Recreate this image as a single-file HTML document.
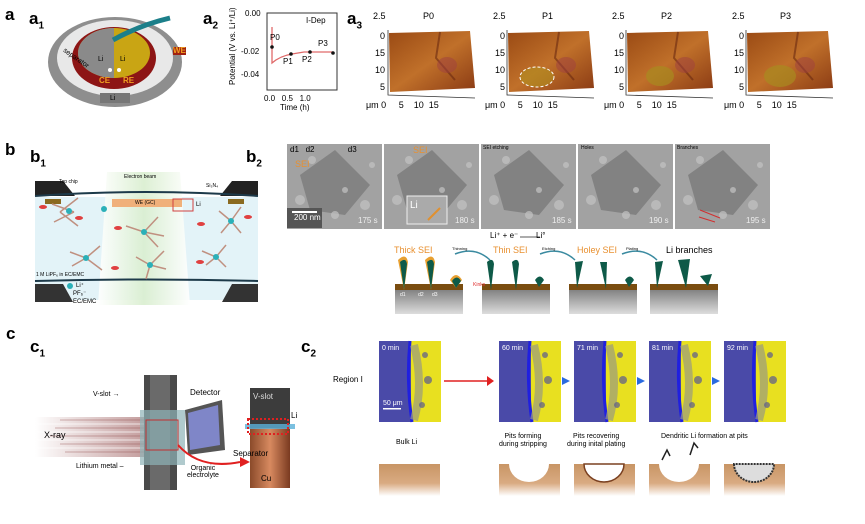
<!DOCTYPE html>
<html><head><meta charset="utf-8"><style>
body{margin:0;background:#fff;}
#w{position:relative;width:865px;height:524px;overflow:hidden;font-family:"Liberation Sans",sans-serif;}
.t{position:absolute;white-space:nowrap;line-height:1;}
</style></head><body><div id="w">
<svg width="865" height="524" style="position:absolute;left:0;top:0" font-family="Liberation Sans, sans-serif">
<defs>
<linearGradient id="afm" x1="0" y1="0" x2="1" y2="1"><stop offset="0" stop-color="#9a4a14"/><stop offset="0.5" stop-color="#c0702a"/><stop offset="1" stop-color="#8a3a14"/></linearGradient>
<linearGradient id="gb" x1="0" y1="0" x2="0" y2="1"><stop offset="0" stop-color="#777"/><stop offset="1" stop-color="#ddd"/></linearGradient>
<linearGradient id="cu" x1="0" y1="0" x2="0" y2="1"><stop offset="0" stop-color="#c89565"/><stop offset="0.6" stop-color="#d9ab82"/><stop offset="1" stop-color="#fff"/></linearGradient>
<linearGradient id="beam" x1="0" y1="0" x2="1" y2="0"><stop offset="0" stop-color="#fff"/><stop offset="0.5" stop-color="#d9eecf"/><stop offset="1" stop-color="#fff"/></linearGradient>
<linearGradient id="xr" x1="0" y1="0" x2="1" y2="0"><stop offset="0" stop-color="#fff"/><stop offset="1" stop-color="#b58585"/></linearGradient>
<linearGradient id="cucol" x1="0" y1="0" x2="1" y2="0"><stop offset="0" stop-color="#8a4a2a"/><stop offset="0.5" stop-color="#d88a60"/><stop offset="1" stop-color="#7a3a20"/></linearGradient>
</defs>
<!-- a1 -->
<ellipse cx="115" cy="62" rx="67" ry="45" fill="#8e8e8e"/>
<ellipse cx="115" cy="58" rx="58" ry="38" fill="#e8e8e8"/>
<ellipse cx="114" cy="58" rx="42" ry="31" fill="#8d1515"/>
<ellipse cx="114" cy="53" rx="36" ry="25" fill="#c9a514"/>
<path d="M114 28 A36 25 0 0 0 114 78 Z" fill="#8a8a8a"/>
<path d="M113 40 Q140 25 170 18" stroke="#1c7f8a" stroke-width="5" fill="none"/>
<rect x="100" y="93" width="30" height="10" fill="#777"/>
<circle cx="110" cy="70" r="2" fill="#fff"/><circle cx="119" cy="70" r="2" fill="#fff"/>
<!-- a2 -->
<rect x="267" y="13" width="70" height="77" fill="none" stroke="#333" stroke-width="1"/>
<path d="M272 27 L272 63 Q280 56 292 54 L304 52 L333 52" stroke="#e06a6a" stroke-width="1.3" fill="none"/>
<circle cx="272" cy="47" r="1.8" fill="#111"/><circle cx="291" cy="54" r="1.8" fill="#111"/><circle cx="310" cy="52" r="1.8" fill="#111"/><circle cx="333" cy="53" r="1.8" fill="#111"/>
<!-- a3 -->
<g id="afmp">
<polygon points="389,33 470,31 475,88 390,92" fill="url(#afm)"/>
<path d="M440 32 L436 58 L455 80" stroke="#6a2a10" stroke-width="2" fill="none" opacity="0.6"/>
<ellipse cx="447" cy="65" rx="10" ry="8" fill="#a04040" opacity="0.5"/>
<path d="M388 30 L388 95 L475 98" stroke="#333" fill="none" stroke-width="0.8"/>
</g>
<use href="#afmp" x="119"/><use href="#afmp" x="238"/><use href="#afmp" x="358"/>
<ellipse cx="537" cy="77" rx="17" ry="10" fill="#b09020" opacity="0.6"/>
<ellipse cx="537" cy="77" rx="17" ry="10" fill="none" stroke="#fff" stroke-dasharray="3 2"/>
<ellipse cx="660" cy="76" rx="14" ry="10" fill="#a88a20" opacity="0.7"/>
<ellipse cx="780" cy="76" rx="16" ry="11" fill="#a88a20" opacity="0.7"/>
<!-- b1 -->
<rect x="35" y="197" width="223" height="103" fill="#e3f3f8"/>
<polygon points="107,172 180,172 190,305 98,305" fill="url(#beam)" opacity="0.9"/>
<polygon points="35,181 63,181 75,196 35,196" fill="#222"/>
<polygon points="258,181 232,181 220,196 258,196" fill="#222"/>
<polygon points="35,284 63,284 73,302 35,302" fill="#333"/>
<polygon points="258,284 232,284 222,302 258,302" fill="#333"/>
<path d="M35 196 Q146 188 258 196" stroke="#1d3a4a" stroke-width="2" fill="none"/>
<path d="M35 281 Q146 278 258 281" stroke="#1d3a4a" stroke-width="2" fill="none"/>
<rect x="112" y="199" width="70" height="8" fill="#f0b07a"/>
<rect x="45" y="199" width="16" height="5" fill="#8a6a20"/><rect x="228" y="199" width="16" height="5" fill="#8a6a20"/>
<g fill="#e04040"><ellipse cx="43" cy="207" rx="4" ry="2"/><ellipse cx="118" cy="228" rx="4" ry="2"/><ellipse cx="201" cy="224" rx="4" ry="2"/><ellipse cx="248" cy="217" rx="4" ry="2"/><ellipse cx="115" cy="268" rx="4" ry="2"/><ellipse cx="200" cy="262" rx="4" ry="2"/><ellipse cx="79" cy="218" rx="4" ry="2"/></g>
<g stroke="#c09080" stroke-width="1.5"><path d="M60 212 l18 -14 M60 212 l18 14 M74 212 l-22 -8 M74 212 l-20 10"/><path d="M144 232 l14 -15 M144 232 l14 15 M144 232 l-18 -6 M144 232 l20 4"/><path d="M86 258 l14 -12 M86 258 l16 12 M86 258 l-16 -6 M86 258 l-14 8"/><path d="M150 265 l14 -14 M150 265 l16 4 M150 265 l-14 -8 M150 265 l-4 14"/><path d="M231 221 l10 -14 M231 221 l-10 12 M231 221 l-12 -10 M231 221 l10 12"/><path d="M216 257 l10 -12 M216 257 l10 10 M216 257 l-14 -6 M216 257 l-10 8"/></g>
<g fill="#2bb0b8"><circle cx="69" cy="211" r="3"/><circle cx="104" cy="209" r="3"/><circle cx="144" cy="232" r="3"/><circle cx="86" cy="258" r="3"/><circle cx="150" cy="265" r="3"/><circle cx="231" cy="221" r="3"/><circle cx="216" cy="257" r="3"/><circle cx="70" cy="286" r="3"/></g>
<rect x="173" y="199" width="20" height="12" fill="none" stroke="#d04040"/>
<!-- b2 TEM -->
<g fill="#a2a2a2"><rect x="287" y="144" width="95" height="85"/><rect x="384" y="144" width="95" height="85"/><rect x="481" y="144" width="95" height="85"/><rect x="578" y="144" width="95" height="85"/><rect x="675" y="144" width="95" height="85"/></g>
<g fill="#6e6e6e" opacity="0.6"><polygon points="300,175 335,150 370,185 345,215 310,210"/><polygon points="397,175 432,150 467,185 442,215 407,210"/><polygon points="494,175 529,150 564,185 539,215 504,210"/><polygon points="591,175 626,150 661,185 636,215 601,210"/><polygon points="688,175 723,150 758,185 733,215 698,210"/></g>
<g id="bl" fill="#c4c4c4" opacity="0.7"><circle cx="300" cy="200" r="5"/><circle cx="335" cy="215" r="4"/><circle cx="365" cy="205" r="5"/><circle cx="345" cy="190" r="3"/><circle cx="312" cy="160" r="4"/><circle cx="372" cy="165" r="3"/></g>
<use href="#bl" x="97"/><use href="#bl" x="194"/><use href="#bl" x="291"/><use href="#bl" x="388"/>
<rect x="287" y="208" width="35" height="20" fill="#555"/>
<rect x="292" y="211" width="25" height="2" fill="#fff"/>
<rect x="407" y="196" width="40" height="28" fill="#aaa" stroke="#eee"/>
<path d="M428 220 l12 -12" stroke="#e09030" stroke-width="2"/>
<path d="M720 218 l-20 -8 M715 222 l-16 -5" stroke="#d03030" stroke-width="1"/>
<path d="M520 237 L540 237" stroke="#222" stroke-width="0.8"/>
<!-- b2 schematic -->
<g id="blk"><rect x="395" y="287" width="68" height="27" fill="url(#gb)"/><rect x="395" y="284" width="68" height="6" fill="#7a4d10"/></g>
<use href="#blk" x="87"/><use href="#blk" x="174"/><use href="#blk" x="255"/>
<g fill="#e8a030"><path d="M398 260 q8 -8 10 2 l-4 28 z"/><path d="M425 260 q8 -8 10 2 l-4 28 z"/><path d="M450 280 q6 -10 12 0 l-6 8 z"/></g>
<g fill="#0e5a48"><path d="M400 262 q6 -5 7 2 l-3 26 z"/><path d="M427 262 q6 -5 7 2 l-3 26 z"/><path d="M452 281 q5 -7 9 0 l-5 7 z"/>
<path d="M487 262 q6 -5 7 2 l-3 26 z"/><path d="M512 262 q6 -5 7 2 l-3 26 z"/><path d="M535 280 q5 -7 9 0 l-5 7 z"/>
<path d="M575 262 l8 -1 l-6 27 z"/><path d="M600 262 l7 0 l-1 27 z"/><path d="M625 280 q5 -7 9 0 l-5 7 z"/>
<path d="M655 262 l8 -1 l-6 27 z"/><path d="M678 260 l12 -1 l-4 29 z"/><path d="M700 276 l12 -2 l-4 12 z"/></g>
<path d="M455 254 q20 -8 35 6" stroke="#3a8aa0" fill="none" stroke-width="1.5"/>
<path d="M540 254 q20 -8 35 6" stroke="#3a8aa0" fill="none" stroke-width="1.5"/>
<path d="M622 254 q20 -8 35 6" stroke="#3a8aa0" fill="none" stroke-width="1.5"/>
<!-- c1 -->
<rect x="35" y="417" width="110" height="40" fill="url(#xr)" opacity="0.8"/>
<g stroke="#fff" stroke-width="1" opacity="0.7"><path d="M35 424 H145 M35 432 H145 M35 440 H145 M35 448 H145"/></g>
<g stroke="#8a4040" stroke-width="0.8" opacity="0.5"><path d="M60 420 H145 M55 428 H145 M50 436 H145 M60 444 H145 M65 452 H145"/></g>
<rect x="144" y="375" width="33" height="115" fill="#4a4a4a"/>
<rect x="150" y="375" width="20" height="115" fill="#6a6a6a"/>
<rect x="140" y="410" width="45" height="55" fill="#8fb4b8" opacity="0.7"/>
<rect x="146" y="420" width="32" height="30" fill="none" stroke="#c03030"/>
<polygon points="185,410 222,400 225,450 188,455" fill="#555"/>
<polygon points="188,413 218,405 220,445 190,450" fill="#7f86c8"/>
<path d="M178 445 Q200 470 240 462" stroke="#e02020" stroke-width="2" fill="none"/>
<polygon points="240,457 250,462 240,467" fill="#e02020"/>
<rect x="250" y="388" width="40" height="40" fill="#3c3c3c"/>
<rect x="250" y="428" width="40" height="60" fill="url(#cucol)"/>
<rect x="245" y="424" width="50" height="5" fill="#5ab0d8" opacity="0.8"/>
<rect x="248" y="419" width="40" height="15" fill="none" stroke="#e02020" stroke-width="2" stroke-dasharray="2 2"/>
<!-- c2 -->
<g id="ci"><rect x="379" y="341" width="62" height="81" fill="#4a4aa8"/><rect x="411" y="341" width="30" height="81" fill="#e8e020"/><path d="M410 341 q-4 40 2 81" stroke="#2020e0" stroke-width="3" fill="none"/><path d="M414 345 q10 40 0 75" stroke="#9a9a80" stroke-width="8" fill="none" opacity="0.7"/>
<g fill="#5a5a90" opacity="0.7"><circle cx="425" cy="355" r="3"/><circle cx="428" cy="380" r="4"/><circle cx="422" cy="405" r="3"/></g></g>
<use href="#ci" x="120"/><use href="#ci" x="195"/><use href="#ci" x="270"/><use href="#ci" x="345"/>
<rect x="383" y="408" width="18" height="1.5" fill="#fff"/>
<path d="M444 381 H487" stroke="#e02020" stroke-width="1.5"/><polygon points="487,376 494,381 487,386" fill="#e02020"/>
<g fill="#2a6ae0"><polygon points="562,377 570,381 562,385"/><polygon points="637,377 645,381 637,385"/><polygon points="712,377 720,381 712,385"/></g>
<g id="br"><rect x="379" y="464" width="61" height="32" fill="url(#cu)"/></g>
<use href="#br" x="120"/><use href="#br" x="195"/><use href="#br" x="270"/><use href="#br" x="345"/>
<path d="M509 464 a20 18 0 0 0 40 0 z" fill="#fff"/>
<path d="M584 464 a20 18 0 0 0 40 0 z" fill="#fff" stroke="#7a4020" stroke-width="1.5"/>
<path d="M659 464 a20 18 0 0 0 40 0 z" fill="#fff"/>
<path d="M734 464 a20 18 0 0 0 40 0 z" fill="#ddd" stroke="#333" stroke-width="2" stroke-dasharray="2 1"/>
<path d="M662 460 l5 -10 l3 6 M690 455 l4 -12 l4 5" stroke="#222" fill="none" stroke-width="1.5"/>
</svg>
<!-- labels -->
<div class="t" style="left:5px;top:6px;font-size:17px;font-weight:bold">a</div>
<div class="t" style="left:29px;top:10px;font-size:17px;font-weight:bold">a<sub style="font-size:10px">1</sub></div>
<div class="t" style="left:203px;top:10px;font-size:17px;font-weight:bold">a<sub style="font-size:10px">2</sub></div>
<div class="t" style="left:347px;top:10px;font-size:17px;font-weight:bold">a<sub style="font-size:10px">3</sub></div>
<div class="t" style="left:98px;top:56px;font-size:7px">Li</div><div class="t" style="left:120px;top:56px;font-size:7px">Li</div><div class="t" style="left:110px;top:95px;font-size:7px">Li</div>
<div class="t" style="left:61px;top:55px;font-size:7px;transform:rotate(35deg)">separator</div>
<div class="t" style="left:173px;top:47px;font-size:8px;font-weight:bold;color:#f0a020;background:#a02010">WE</div>
<div class="t" style="left:99px;top:77px;font-size:8px;font-weight:bold;color:#f0a020">CE</div>
<div class="t" style="left:123px;top:77px;font-size:8px;font-weight:bold;color:#f0a020">RE</div>
<div class="t" style="left:245px;top:10px;font-size:8px">0.00</div>
<div class="t" style="left:241px;top:48px;font-size:8px">-0.02</div>
<div class="t" style="left:241px;top:71px;font-size:8px">-0.04</div>
<div class="t" style="left:229px;top:85px;font-size:8px;transform:rotate(-90deg);transform-origin:0 0">Potential (V vs. Li⁺/Li)</div>
<div class="t" style="left:306px;top:17px;font-size:8px">I-Dep</div>
<div class="t" style="left:270px;top:34px;font-size:8px">P0</div><div class="t" style="left:283px;top:58px;font-size:8px">P1</div><div class="t" style="left:302px;top:56px;font-size:8px">P2</div><div class="t" style="left:318px;top:40px;font-size:8px">P3</div>
<div class="t" style="left:264px;top:95px;font-size:8px">0.0&nbsp;&nbsp;&nbsp;0.5&nbsp;&nbsp;&nbsp;1.0</div>
<div class="t" style="left:280px;top:104px;font-size:8px">Time (h)</div>
<div class="t" style="left:373px;top:12px;font-size:9px">2.5</div><div class="t" style="left:423px;top:12px;font-size:9px">P0</div>
<div class="t" style="left:493px;top:12px;font-size:9px">2.5</div><div class="t" style="left:542px;top:12px;font-size:9px">P1</div>
<div class="t" style="left:612px;top:12px;font-size:9px">2.5</div><div class="t" style="left:661px;top:12px;font-size:9px">P2</div>
<div class="t" style="left:732px;top:12px;font-size:9px">2.5</div><div class="t" style="left:780px;top:12px;font-size:9px">P3</div>
<div class="t" style="left:375px;top:28px;font-size:9px;line-height:17px">&nbsp;&nbsp;0<br>15<br>10<br>&nbsp;&nbsp;5</div>
<div class="t" style="left:495px;top:28px;font-size:9px;line-height:17px">&nbsp;&nbsp;0<br>15<br>10<br>&nbsp;&nbsp;5</div>
<div class="t" style="left:614px;top:28px;font-size:9px;line-height:17px">&nbsp;&nbsp;0<br>15<br>10<br>&nbsp;&nbsp;5</div>
<div class="t" style="left:734px;top:28px;font-size:9px;line-height:17px">&nbsp;&nbsp;0<br>15<br>10<br>&nbsp;&nbsp;5</div>
<div class="t" style="left:366px;top:101px;font-size:9px">μm 0&nbsp;&nbsp;&nbsp;&nbsp;&nbsp;5&nbsp;&nbsp;&nbsp;&nbsp;10&nbsp;&nbsp;15</div>
<div class="t" style="left:485px;top:101px;font-size:9px">μm 0&nbsp;&nbsp;&nbsp;&nbsp;&nbsp;5&nbsp;&nbsp;&nbsp;&nbsp;10&nbsp;&nbsp;15</div>
<div class="t" style="left:604px;top:101px;font-size:9px">μm 0&nbsp;&nbsp;&nbsp;&nbsp;&nbsp;5&nbsp;&nbsp;&nbsp;&nbsp;10&nbsp;&nbsp;15</div>
<div class="t" style="left:724px;top:101px;font-size:9px">μm 0&nbsp;&nbsp;&nbsp;&nbsp;&nbsp;5&nbsp;&nbsp;&nbsp;&nbsp;10&nbsp;&nbsp;15</div>
<div class="t" style="left:5px;top:141px;font-size:17px;font-weight:bold">b</div>
<div class="t" style="left:30px;top:148px;font-size:17px;font-weight:bold">b<sub style="font-size:10px">1</sub></div>
<div class="t" style="left:246px;top:148px;font-size:17px;font-weight:bold">b<sub style="font-size:10px">2</sub></div>
<div class="t" style="left:124px;top:175px;font-size:5px">Electron beam</div>
<div class="t" style="left:59px;top:180px;font-size:5px">Top chip</div>
<div class="t" style="left:206px;top:184px;font-size:5px">Si₃N₄</div>
<div class="t" style="left:135px;top:201px;font-size:5px">WE (GC)</div>
<div class="t" style="left:196px;top:202px;font-size:6px">Li</div>
<div class="t" style="left:36px;top:273px;font-size:5px">1 M LiPF₆ in EC/EMC</div>
<div class="t" style="left:76px;top:283px;font-size:6px">Li⁺</div><div class="t" style="left:73px;top:291px;font-size:6px">PF₆⁻</div><div class="t" style="left:73px;top:299px;font-size:6px">EC/EMC</div>
<div class="t" style="left:290px;top:146px;font-size:8px">d1&nbsp;&nbsp;&nbsp;d2&nbsp;&nbsp;&nbsp;&nbsp;&nbsp;&nbsp;&nbsp;&nbsp;&nbsp;&nbsp;&nbsp;&nbsp;&nbsp;&nbsp;&nbsp;d3</div>
<div class="t" style="left:295px;top:160px;font-size:9px;color:#e89030">SEI</div>
<div class="t" style="left:413px;top:146px;font-size:9px;color:#e89030">SEI</div>
<div class="t" style="left:410px;top:201px;font-size:10px;color:#fff">Li</div>
<div class="t" style="left:294px;top:214px;font-size:8px;color:#fff">200 nm</div>
<div class="t" style="left:483px;top:146px;font-size:5px">SEI etching</div>
<div class="t" style="left:581px;top:146px;font-size:5px">Holes</div>
<div class="t" style="left:677px;top:146px;font-size:5px">Branches</div>
<div class="t" style="left:358px;top:217px;font-size:8px;color:#eee">175 s</div>
<div class="t" style="left:455px;top:217px;font-size:8px;color:#eee">180 s</div>
<div class="t" style="left:552px;top:217px;font-size:8px;color:#eee">185 s</div>
<div class="t" style="left:649px;top:217px;font-size:8px;color:#eee">190 s</div>
<div class="t" style="left:746px;top:217px;font-size:8px;color:#eee">195 s</div>
<div class="t" style="left:490px;top:232px;font-size:8px">Li⁺ + e⁻&nbsp;&nbsp;&nbsp;&nbsp;&nbsp;&nbsp;&nbsp;&nbsp;Li°</div>
<div class="t" style="left:394px;top:246px;font-size:9px;color:#e89030">Thick SEI</div>
<div class="t" style="left:493px;top:246px;font-size:9px;color:#e89030">Thin SEI</div>
<div class="t" style="left:577px;top:246px;font-size:9px;color:#e89030">Holey SEI</div>
<div class="t" style="left:666px;top:246px;font-size:9px">Li branches</div>
<div class="t" style="left:452px;top:247px;font-size:4px">Thinning</div><div class="t" style="left:542px;top:247px;font-size:4px">Etching</div><div class="t" style="left:626px;top:247px;font-size:4px">Plating</div>
<div class="t" style="left:400px;top:293px;font-size:5px;color:#fff">d1&nbsp;&nbsp;&nbsp;&nbsp;&nbsp;&nbsp;&nbsp;&nbsp;&nbsp;d2&nbsp;&nbsp;&nbsp;&nbsp;&nbsp;&nbsp;d3</div>
<div class="t" style="left:473px;top:283px;font-size:5px;color:#e03030">Kinks</div>
<div class="t" style="left:6px;top:325px;font-size:17px;font-weight:bold">c</div>
<div class="t" style="left:30px;top:338px;font-size:17px;font-weight:bold">c<sub style="font-size:10px">1</sub></div>
<div class="t" style="left:301px;top:338px;font-size:17px;font-weight:bold">c<sub style="font-size:10px">2</sub></div>
<div class="t" style="left:93px;top:391px;font-size:7px">V-slot →</div>
<div class="t" style="left:190px;top:389px;font-size:8px">Detector</div>
<div class="t" style="left:44px;top:431px;font-size:9px">X-ray</div>
<div class="t" style="left:76px;top:463px;font-size:7px">Lithium metal –</div>
<div class="t" style="left:187px;top:465px;font-size:7px;text-align:center">Organic<br>electrolyte</div>
<div class="t" style="left:253px;top:393px;font-size:8px;color:#ddd">V-slot</div>
<div class="t" style="left:291px;top:412px;font-size:8px">Li</div>
<div class="t" style="left:233px;top:450px;font-size:8px">Separator</div>
<div class="t" style="left:261px;top:475px;font-size:8px">Cu</div>
<div class="t" style="left:333px;top:376px;font-size:8px">Region I</div>
<div class="t" style="left:382px;top:345px;font-size:7px;color:#fff">0 min</div>
<div class="t" style="left:502px;top:345px;font-size:7px;color:#fff">60 min</div>
<div class="t" style="left:577px;top:345px;font-size:7px;color:#fff">71 min</div>
<div class="t" style="left:652px;top:345px;font-size:7px;color:#fff">81 min</div>
<div class="t" style="left:727px;top:345px;font-size:7px;color:#fff">92 min</div>
<div class="t" style="left:383px;top:400px;font-size:7px;color:#fff">50 μm</div>
<div class="t" style="left:396px;top:439px;font-size:7px">Bulk Li</div>
<div class="t" style="left:499px;top:433px;font-size:7px;text-align:center;line-height:1.2">Pits forming<br>during stripping</div>
<div class="t" style="left:567px;top:433px;font-size:7px;text-align:center;line-height:1.2">Pits recovering<br>during inital plating</div>
<div class="t" style="left:661px;top:433px;font-size:7px">Dendritic Li formation at pits</div>
</div></body></html>
